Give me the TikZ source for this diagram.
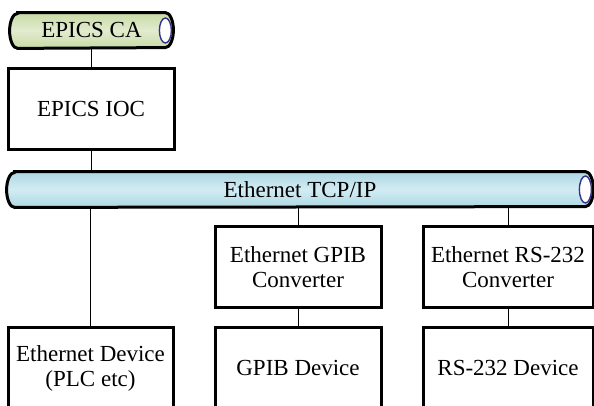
\documentclass[tikz,border=0pt]{standalone}
\usepackage{fontspec}
\setmainfont{Liberation Serif}
\usetikzlibrary{backgrounds, calc}
\definecolor{ca-green}{HTML}{C8DAA4}
\definecolor{ca-green-light}{HTML}{E2ECCF}
\definecolor{eth-blue}{HTML}{ADD7E3}
\definecolor{eth-blue-light}{HTML}{D2ECF3}
\definecolor{end-navy}{HTML}{33338C}
\tikzset{
  unit/.style={
    draw, color=black, line width=1.5pt, minimum width=83pt,
    minimum height=40.5pt, inner sep=0pt, align=center,
    font=\fontsize{11.5}{12.5}\selectfont
  },
  pipe/.style={
    minimum height=17.5pt, inner sep=0pt,
    font=\fontsize{11.5}{12.5}\selectfont
  },
  tube/.style={draw=black, line width=1.5pt},
  tube-end/.style={draw=end-navy, fill=white, line width=0.7pt},
  link/.style={draw, color=black, line width=0.5pt}
}
\newcommand{\tube}[3]{%
  \begin{scope}[on background layer]
    \draw[tube, top color=#2, bottom color=#2, middle color=#2-light]
      ($(#1.north west)+(4pt,0)$) -- ($(#1.north east)+(-4pt,0)$)
      arc[start angle=90, end angle=-90, x radius=4pt, y radius=8.75pt]
      -- ($(#1.south west)+(4pt,0)$)
      arc[start angle=270, end angle=90, x radius=4pt, y radius=8.75pt] -- cycle;
    \draw[tube-end] ($(#1.east)+(-4pt,0)$) ellipse[x radius=3pt, y radius=#3];
  \end{scope}}

\begin{document}
\begin{tikzpicture}[x=0.5pt, y=0.5pt]
        \useasboundingbox (0,0) rectangle (594,406);
        \clip (0,0) rectangle (594,406);

        \node[pipe, minimum width=81.5pt] (ca) at (91.5,375.5) {EPICS CA};
        \node[unit] (ioc) at (91,296.5) {EPICS IOC};
        \node[pipe, minimum width=293pt] (eth) at (300,216.5) {Ethernet TCP/IP};

        \node[unit] (gconv) at (298,138.5) {Ethernet GPIB\\Converter};
        \node[unit, minimum width=85pt] (rconv) at (508,138.5) {Ethernet RS-232\\Converter};

        \node[unit, minimum width=82.5pt] (edev) at (90.5,37.5) {Ethernet Device\\(PLC etc)};
        \node[unit] (gdev) at (298,37.5) {GPIB Device};
        \node[unit, minimum width=85pt] (rdev) at (508,37.5) {RS-232 Device};

        \tube{ca}{ca-green}{6.25pt}
        \tube{eth}{eth-blue}{6.75pt}

        \draw[link] (ioc.north) -- (ioc.north |- ca.south);
        \draw[link] (ioc.south) -- (ioc.south |- eth.north);
        \draw[link] (edev.north) -- (edev.north |- eth.south);
        \draw[link] (gconv.north) -- (gconv.north |- eth.south);
        \draw[link] (rconv.north) -- (rconv.north |- eth.south);
        \draw[link] (gconv) -- (gdev);
        \draw[link] (rconv) -- (rdev);
      \end{tikzpicture}
\end{document}
